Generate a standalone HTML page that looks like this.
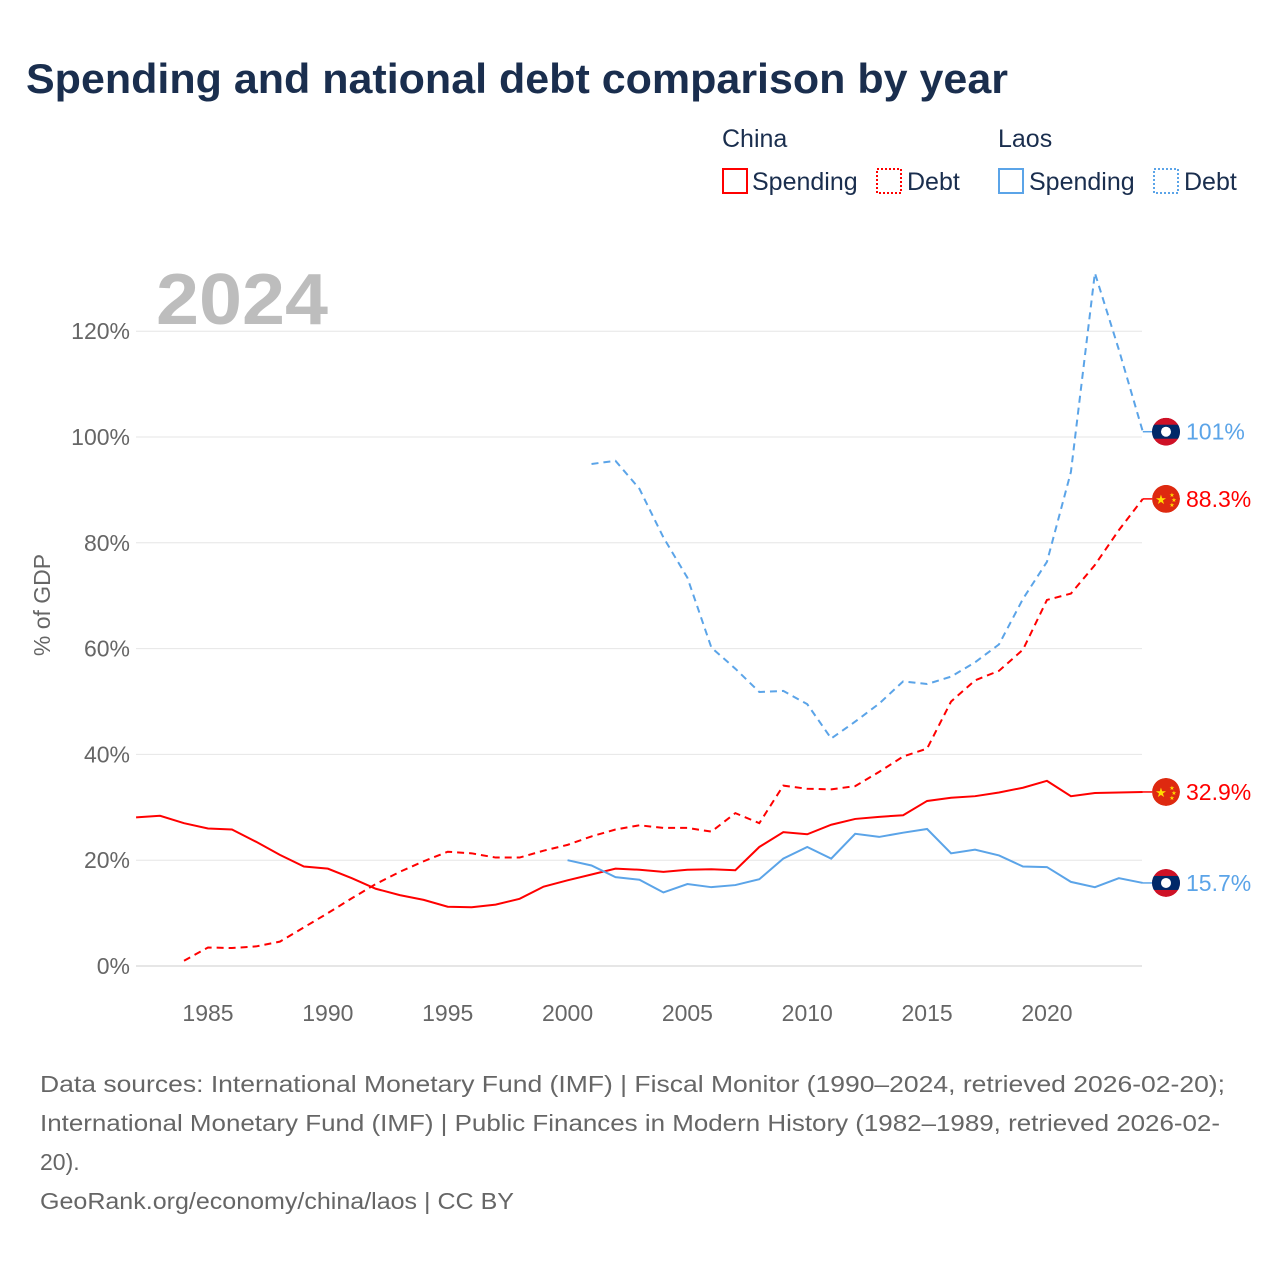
<!DOCTYPE html>
<html><head><meta charset="utf-8"><style>
body{margin:0;background:#fff;font-family:"Liberation Sans",sans-serif;}
#wrap{position:relative;width:1280px;height:1280px;overflow:hidden;}
</style></head><body>
<div id="wrap">
<svg id="chart" width="1280" height="1280" xmlns="http://www.w3.org/2000/svg">
<defs><clipPath id="fc"><circle cx="0" cy="0" r="14"/></clipPath></defs>
<text x="26" y="93" font-size="42" font-weight="bold" fill="#1a2e4e" textLength="982" lengthAdjust="spacingAndGlyphs">Spending and national debt comparison by year</text>
<g font-size="25" fill="#1a2e4e">
<text x="722" y="147">China</text>
<text x="998" y="147">Laos</text>
<g><rect x="723" y="169" width="24" height="24" fill="none" stroke="#f00" stroke-width="2"/><text x="752" y="190">Spending</text></g>
<g><rect x="877" y="169" width="24" height="24" fill="none" stroke="#f00" stroke-width="2" stroke-dasharray="2,2"/><text x="907" y="190">Debt</text></g>
<g><rect x="999" y="169" width="24" height="24" fill="none" stroke="#5ba4e8" stroke-width="2"/><text x="1029" y="190">Spending</text></g>
<g><rect x="1154" y="169" width="24" height="24" fill="none" stroke="#5ba4e8" stroke-width="2" stroke-dasharray="2,2"/><text x="1184" y="190">Debt</text></g>
</g>
<text x="156" y="324" font-size="72" font-weight="bold" fill="#bdbdbd" textLength="172" lengthAdjust="spacingAndGlyphs">2024</text>
<text transform="translate(50,605) rotate(-90)" text-anchor="middle" font-size="23" fill="#666">% of GDP</text>
<g id="grid"></g><g id="xt"></g><g id="series"></g><g id="ends"></g>
<g font-size="23" fill="#666">
<text x="40" y="1092" textLength="1185" lengthAdjust="spacingAndGlyphs">Data sources: International Monetary Fund (IMF) | Fiscal Monitor (1990–2024, retrieved 2026-02-20);</text>
<text x="40" y="1131" textLength="1180" lengthAdjust="spacingAndGlyphs">International Monetary Fund (IMF) | Public Finances in Modern History (1982–1989, retrieved 2026-02-</text>
<text x="40" y="1170">20).</text>
<text x="40" y="1209" textLength="474" lengthAdjust="spacingAndGlyphs">GeoRank.org/economy/china/laos | CC BY</text>
</g>
</svg>
</div>
<script>
const yTicks=[0,20,40,60,80,100,120];
const xTicks=[1985,1990,1995,2000,2005,2010,2015,2020];
const chinaSpendYears=[1982,1983,1984,1985,1986,1987,1988,1989,1990,1991,1992,1993,1994,1995,1996,1997,1998,1999,2000,2001,2002,2003,2004,2005,2006,2007,2008,2009,2010,2011,2012,2013,2014,2015,2016,2017,2018,2019,2020,2021,2022,2023,2024];
const chinaSpend=[28.1,28.4,27.0,26.0,25.8,23.5,21.0,18.8,18.4,16.6,14.6,13.4,12.5,11.2,11.1,11.6,12.7,15.0,16.2,17.3,18.4,18.2,17.8,18.2,18.3,18.1,22.5,25.3,24.9,26.7,27.8,28.2,28.5,31.2,31.8,32.1,32.8,33.7,35.0,32.1,32.7,32.8,32.9];
const chinaDebtYears=chinaSpendYears.slice(2);
const chinaDebt=[1.0,3.5,3.4,3.7,4.6,7.3,10.0,12.8,15.5,17.8,19.8,21.6,21.3,20.5,20.5,21.8,22.9,24.5,25.8,26.6,26.1,26.1,25.4,28.9,27.0,34.1,33.5,33.4,34.0,36.7,39.6,41.1,50.0,54.0,55.8,59.8,69.2,70.4,75.8,82.4,88.3];
const laosSpendYears=chinaSpendYears.slice(18);
const laosSpend=[20.0,19.0,16.8,16.3,13.9,15.5,14.9,15.3,16.4,20.3,22.5,20.3,25.0,24.4,25.2,25.9,21.3,22.0,20.9,18.8,18.7,15.9,14.9,16.6,15.7];
const laosDebtYears=chinaSpendYears.slice(19);
const laosDebt=[94.9,95.5,90.2,81.0,73.4,60.2,56.2,51.8,52.0,49.5,43.0,46.2,49.6,53.8,53.3,54.7,57.4,60.8,69.4,76.4,93.4,131.0,116.5,101.0];
const endLabels=["101%","88.3%","32.9%","15.7%"];
const NS="http://www.w3.org/2000/svg";
const X=y=>208+(y-1985)*23.97, Y=v=>966-v*5.29;
function mk(t,a,p){const e=document.createElementNS(NS,t);for(const k in a)e.setAttribute(k,a[k]);p.appendChild(e);return e;}
const grid=document.getElementById('grid');
yTicks.forEach(t=>{
 const l=mk('line',{x1:136,x2:1142,y1:Y(t),y2:Y(t),stroke:t===0?'#ccc':'#e6e6e6','stroke-width':1},grid);
 
 
 const tx=mk('text',{x:130,y:Y(t)+8,'text-anchor':'end','font-size':23,fill:'#666'},grid);tx.textContent=t+'%';
 
 
});
const xt=document.getElementById('xt');
xTicks.forEach(t=>{
 const tx=mk('text',{x:X(t),y:1021,'text-anchor':'middle','font-size':23,fill:'#666'},xt);tx.textContent=t;
 
 
});
const S=document.getElementById('series');
function line(ys,vs,col,dash,name){
 const p=mk('polyline',{points:ys.map((y,i)=>X(y)+','+Y(vs[i])).join(' '),fill:'none',stroke:col,'stroke-width':2,'stroke-dasharray':dash||'none'},S);
 
 
}
line(chinaSpendYears,chinaSpend,'#f00',null,'china-spending-line');
line(chinaDebtYears,chinaDebt,'#f00','7,5','china-debt-line');
line(laosSpendYears,laosSpend,'#5ba4e8',null,'laos-spending-line');
line(laosDebtYears,laosDebt,'#5ba4e8','7,5','laos-debt-line');
const E=document.getElementById('ends');
const ends=[[laosDebt[laosDebt.length-1],'laos','#5ba4e8'],[chinaDebt[chinaDebt.length-1],'china','#f00'],[chinaSpend[chinaSpend.length-1],'china','#f00'],[laosSpend[laosSpend.length-1],'laos','#5ba4e8']];
ends.forEach((e,i)=>{
 const cy=Y(e[0]),cx=1166;
 mk('line',{x1:X(2024),x2:cx-14,y1:cy,y2:cy,stroke:e[2],'stroke-width':1.5},E);
 const g=mk('g',{transform:'translate('+cx+','+cy+')','clip-path':'url(#fc)'},E);
 
 
 if(e[1]==='laos'){
  mk('circle',{cx:0,cy:0,r:14,fill:'#ce1126'},g);
  mk('rect',{x:-14,y:-7,width:28,height:14,fill:'#002868'},g);
  mk('circle',{cx:0,cy:0,r:5,fill:'#fff'},g);
 } else {
  mk('circle',{cx:0,cy:0,r:14,fill:'#de2910'},g);
  mk('text',{x:-5,y:5,'text-anchor':'middle','font-size':13,fill:'#ffde00'},g).textContent='★';
  mk('text',{x:6,y:-2,'text-anchor':'middle','font-size':6,fill:'#ffde00'},g).textContent='★';
  mk('text',{x:8,y:3,'text-anchor':'middle','font-size':6,fill:'#ffde00'},g).textContent='★';
  mk('text',{x:6,y:8,'text-anchor':'middle','font-size':6,fill:'#ffde00'},g).textContent='★';
 }
 const t=mk('text',{x:1186,y:cy+8,'font-size':23,fill:e[2]},E);t.textContent=endLabels[i];
 
 
});
</script>
</body></html>
